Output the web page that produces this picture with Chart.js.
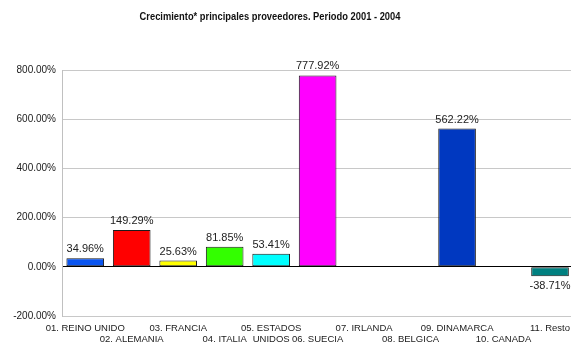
<!DOCTYPE html>
<html>
<head>
<meta charset="utf-8">
<script src="https://cdn.jsdelivr.net/npm/chart.js@4/dist/chart.umd.min.js"></script>
<style>
  html, body { margin: 0; padding: 0; background: #fff; overflow: hidden; }
  #wrap { width: 576px; height: 347px; }
</style>
</head>
<body>
<div id="wrap"><canvas id="grafico"></canvas></div>
<script>
// --- DATOS ---
const titulo = 'Crecimiento* principales proveedores. Periodo 2001 - 2004';
const paises = ['01. REINO UNIDO', '02. ALEMANIA', '03. FRANCIA', '04. ITALIA', '05. ESTADOS UNIDOS',
    '06. SUECIA', '07. IRLANDA', '08. BELGICA', '09. DINAMARCA', '10. CANADA', '11. Resto'];
// lineas de cada etiqueta (filas alternas, como en el original)
const etiquetasEje = [
    ['01. REINO UNIDO', ''], ['', '02. ALEMANIA'], ['03. FRANCIA', ''], ['', '04. ITALIA'],
    ['05. ESTADOS', 'UNIDOS'], ['', '06. SUECIA'], ['07. IRLANDA', ''], ['', '08. BELGICA'],
    ['09. DINAMARCA', ''], ['', '10. CANADA'], ['11. Resto', '']
];
const crecimiento = [34.96, 149.29, 25.63, 81.85, 53.41, 777.92, null, null, 562.22, null, -38.71];
const colores = ['#0A55F0', '#FF0000', '#FFFF00', '#33FF00', '#00FFFF', '#FF00FF',
    '#888888', '#888888', '#0038C0', '#888888', '#008080'];
const ticksY = [-200, 0, 200, 400, 600, 800];

const fuente = 'Liberation Sans, Arial, sans-serif';
const pct = v => v.toFixed(2) + '%';

// titulo dibujado a mano (centrado algo a la izquierda, letra estrecha)
const pluginTitulo = {
    id: 'tituloManual',
    afterDraw(chart) {
        const ctx = chart.ctx;
        ctx.save();
        ctx.translate(270, 17);
        ctx.scale(0.85, 1);
        ctx.font = 'bold 11px ' + fuente;
        ctx.fillStyle = '#111';
        ctx.textAlign = 'center';
        ctx.textBaseline = 'middle';
        ctx.fillText(titulo, 0, 0);
        ctx.restore();
    }
};

// valores encima / debajo de cada barra
const pluginValores = {
    id: 'valores',
    afterDatasetsDraw(chart) {
        const ctx = chart.ctx;
        const meta = chart.getDatasetMeta(0);
        ctx.save();
        ctx.font = '11px ' + fuente;
        ctx.fillStyle = '#222';
        ctx.textAlign = 'center';
        ctx.textBaseline = 'middle';
        meta.data.forEach((barra, i) => {
            const v = crecimiento[i];
            if (v === null) return;
            const y = v >= 0 ? barra.y - 9 : barra.y + 10;
            ctx.fillText(pct(v), barra.x, y);
        });
        ctx.restore();
    }
};

new Chart(document.getElementById('grafico'), {
    type: 'bar',
    data: {
        labels: paises,
        datasets: [{
            data: crecimiento,
            backgroundColor: colores,
            borderColor: '#1a1a1a',
            borderWidth: 1,
            borderSkipped: false,
            barPercentage: 0.81,
            categoryPercentage: 1
        }]
    },
    options: {
        responsive: true,
        maintainAspectRatio: false,
        animation: false,
        layout: { padding: { top: 70, left: 0, right: 0, bottom: 0 } },
        plugins: {
            legend: { display: false },
            title: { display: false },
            tooltip: { enabled: false }
        },
        scales: {
            x: {
                grid: { display: false, drawTicks: false },
                border: { display: false },
                ticks: {
                    autoSkip: false,
                    maxRotation: 0,
                    minRotation: 0,
                    padding: 6,
                    color: '#1a1a1a',
                    font: { family: fuente, size: 9.5, lineHeight: 1.25 },
                    callback: (v, i) => etiquetasEje[i]
                },
                afterFit: eje => { eje.height = 31; }
            },
            y: {
                min: -200,
                max: 800,
                afterBuildTicks: eje => { eje.ticks = ticksY.map(v => ({ value: v })); },
                grid: {
                    drawTicks: false,
                    color: c => c.tick && c.tick.value === 0 ? '#000000' : '#c8c8c8',
                    lineWidth: 1
                },
                border: { color: '#c0c0c0' },
                ticks: {
                    padding: 6,
                    color: '#1a1a1a',
                    font: { family: fuente, size: 10 },
                    callback: v => pct(v)
                },
                afterFit: eje => { eje.width = 62; }
            }
        }
    },
    plugins: [pluginTitulo, pluginValores]
});
</script>
</body>
</html>
